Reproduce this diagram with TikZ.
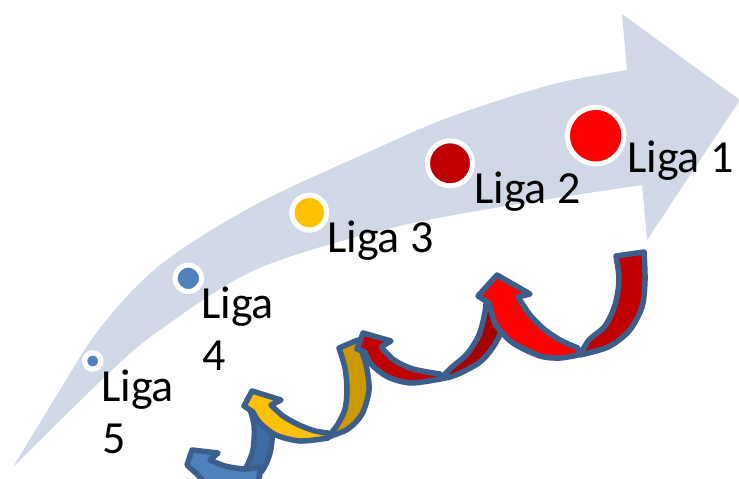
\documentclass[tikz,border=0pt]{standalone}
\usepackage{fontspec}
\setmainfont{Carlito}
\definecolor{bandfill}{RGB}{208,216,232}
\definecolor{arrowline}{RGB}{60,94,140}
\definecolor{ligaA}{RGB}{255,0,0}
\definecolor{ligaB}{RGB}{192,0,0}
\definecolor{ligaC}{RGB}{255,192,0}
\definecolor{ligaD}{RGB}{79,129,189}
\definecolor{redback}{RGB}{165,0,0}
\definecolor{yellowback}{RGB}{204,153,0}
\definecolor{blueback}{RGB}{64,108,166}
\begin{document}
\begin{tikzpicture}[x=1pt,y=-1pt,
  outl/.style={draw=arrowline, line width=5.5pt, line join=round},
  dotring/.style={circle, draw=white, inner sep=0pt},
  ligatext/.style={anchor=base west, inner sep=0pt, font=\fontsize{46}{54}\selectfont}]
\useasboundingbox (0,0) rectangle (739,479);
\clip (0,0) rectangle (739,479);

% sweeping band with arrowhead
\fill[bandfill]
  plot[smooth, tension=0.55] coordinates {(13,467) (60,390) (100,328) (160,265) (255,205) (373,150) (450,117) (550,85) (627,70)}
  -- (622,14) -- (740,100) -- (647,240) -- (642,185)
  -- plot[smooth, tension=0.55] coordinates {(642,185) (500,207) (383,230) (255,270) (160,330) (110,372) (13,467)}
  -- cycle;

% league markers
\node[dotring, fill=ligaA, line width=5pt, minimum size=56.6pt] (d1) at (595.7,135.7) {};
\node[dotring, fill=ligaB, line width=5pt, minimum size=45pt] (d2) at (450,163.3) {};
\node[dotring, fill=ligaC, line width=5.2pt, minimum size=34.8pt] (d3) at (309.3,212.7) {};
\node[dotring, fill=ligaD, line width=5pt, minimum size=26.4pt] (d4) at (188.3,278.3) {};
\node[dotring, fill=ligaD, line width=5.3pt, minimum size=16.3pt] (d5) at (92.7,361) {};

% labels
\node[ligatext] (t1) at (627,172) {Liga 1};
\node[ligatext] (t2) at (474,203) {Liga 2};
\node[ligatext] (t3) at (327,252) {Liga 3};
\node[ligatext] (t4a) at (201,318) {Liga};
\node[ligatext] (t4b) at (202,370) {4};
\node[ligatext] (t5a) at (101,401) {Liga};
\node[ligatext] (t5b) at (102,453) {5};

% blue curl
\filldraw[outl, fill=blueback] (248,403) -- (264,402)
  -- plot[smooth] coordinates {(264,402) (272,430) (270,453) (262,471) (248,481) (238,486)}
  -- plot[smooth] coordinates {(238,486) (246,468) (253,450) (254,425) (248,403)} -- cycle;
\filldraw[outl, fill=ligaD] (260,469)
  -- plot[smooth] coordinates {(260,469) (256,484) (230,490) (208,484) (197,474)}
  -- (187,465) -- (192,450) -- (218,453) -- (210,460)
  -- plot[smooth] coordinates {(210,460) (225,466) (245,469) (260,467)} -- cycle;

% yellow curl
\filldraw[outl, fill=yellowback] (339,348) -- (358,340)
  -- plot[smooth] coordinates {(358,340) (366,365) (369,390) (362,414) (348,429) (328,437)}
  -- plot[smooth] coordinates {(328,437) (338,424) (345,409) (347,390) (345,368) (339,348)} -- cycle;
\filldraw[outl, fill=ligaC] (328,438)
  -- plot[smooth] coordinates {(328,438) (300,441) (276,435) (260,423) (253,412)}
  -- (244,406) -- (252,391) -- (281,400) -- (271,405)
  -- plot[smooth] coordinates {(271,405) (283,416) (299,425) (315,431) (328,433)} -- cycle;

% dark red curl
\filldraw[outl, fill=redback] (487,292) -- (503,290)
  -- plot[smooth] coordinates {(503,290) (505,320) (495,344) (480,362) (456,375) (440,379)}
  -- plot[smooth] coordinates {(440,379) (451,368) (467,354) (479,335) (485,312) (487,292)} -- cycle;
\filldraw[outl, fill=ligaB] (440,379)
  -- plot[smooth] coordinates {(440,379) (411,383) (388,377) (371,364) (365,352)}
  -- (357,349) -- (363,333) -- (391,341) -- (381,347)
  -- plot[smooth] coordinates {(381,347) (394,360) (413,369) (440,374)} -- cycle;

% red curl
\filldraw[outl, fill=ligaB] (616,256) -- (644,252)
  -- plot[smooth] coordinates {(644,252) (645,280) (642,307) (629,331) (608,347) (580,355)}
  -- plot[smooth] coordinates {(580,355) (589,340) (605,326) (615,305) (619,280) (616,256)} -- cycle;
\filldraw[outl, fill=ligaA] (578,355)
  -- plot[smooth] coordinates {(578,355) (560,358) (540,356) (513,343) (496,325) (489,303)}
  -- (478,296) -- (497,275) -- (530,294) -- (518,297)
  -- plot[smooth] coordinates {(518,297) (530,315) (545,330) (562,341) (578,348)} -- cycle;
\end{tikzpicture}
\end{document}
